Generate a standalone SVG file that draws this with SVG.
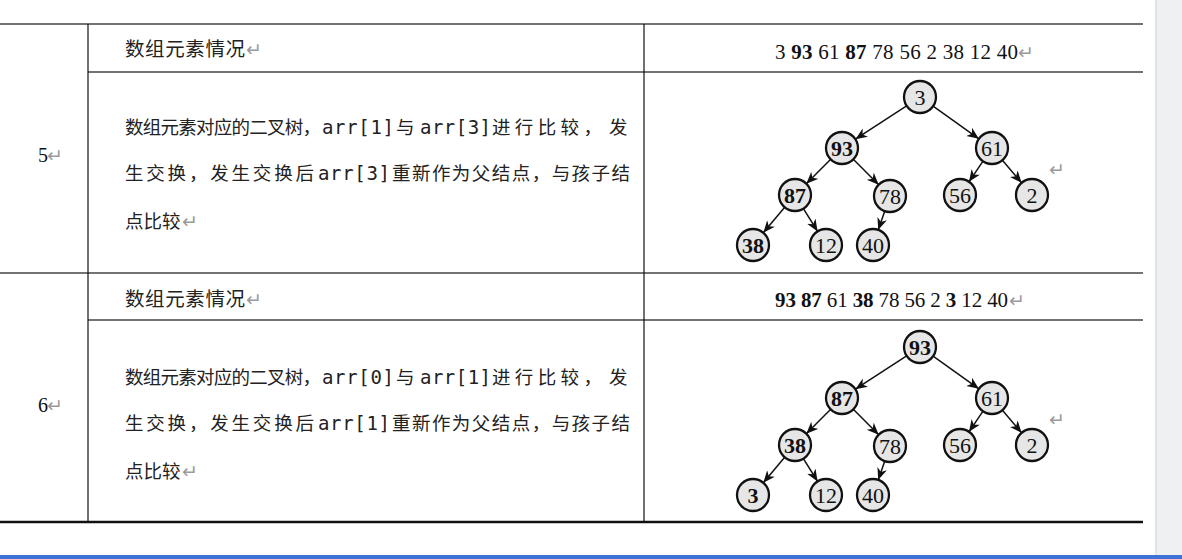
<svg xmlns="http://www.w3.org/2000/svg" width="1182" height="559" viewBox="0 0 1182 559">
<style>
.cjk{font-family:"Noto Sans CJK SC","Noto Sans",sans-serif;font-size:18.5px;fill:#222}
.hdr{font-family:"Noto Sans CJK SC","Noto Sans",sans-serif;font-size:19.5px;fill:#222}
.mono{font-family:"DejaVu Sans Mono","Liberation Mono",monospace;font-size:19px;fill:#222}
.ser{font-family:"Liberation Serif","Times New Roman",serif;fill:#111}
.ret{font-family:"DejaVu Sans",sans-serif;font-size:19px;fill:#9a9a9a}
.nd circle{fill:#e6e6e6;stroke:#111;stroke-width:2.3}
.nd text{font-family:"Liberation Serif","Times New Roman",serif;font-size:22px;text-anchor:middle;fill:#111}
.b{font-weight:bold}
.edge{stroke:#111;stroke-width:1.5;fill:none;marker-end:url(#ah)}
.rule{stroke:#444;stroke-width:1.5}
</style>
<defs>
<marker id="ah" markerUnits="userSpaceOnUse" markerWidth="14" markerHeight="12" refX="12" refY="5" orient="auto">
<path d="M0,0 L12,5 L0,10 L3.5,5 z" fill="#111"/>
</marker>
</defs>
<rect width="1182" height="559" fill="#ffffff"/>
<rect x="1155" y="0" width="27" height="559" fill="#eff0f2"/>
<rect x="1155" y="0" width="2" height="559" fill="#e2e3e6"/>
<rect x="0" y="555" width="1182" height="4" fill="#3f72d6"/>

<g id="table">
<line class="rule" x1="0" y1="24" x2="1143" y2="24" stroke="#333"/>
<line class="rule" x1="88" y1="72" x2="1143" y2="72" stroke="#666"/>
<line class="rule" x1="0" y1="273" x2="1143" y2="273" stroke="#333"/>
<line class="rule" x1="88" y1="320" x2="1143" y2="320" stroke="#666"/>
<line x1="0" y1="522" x2="1143" y2="522" stroke="#111" stroke-width="2.5"/>
<line x1="88" y1="24" x2="88" y2="522" stroke="#111" stroke-width="1.2"/>
<line x1="644" y1="24" x2="644" y2="522" stroke="#111" stroke-width="1.2"/>
</g>

<g id="row5-text">
<text class="ser" x="38" y="162" font-size="20">5</text><text class="ret" x="47" y="162">↵</text>
<text class="hdr" x="125" y="56" textLength="120">数组元素情况</text><text class="ret" x="246" y="56">↵</text>
<text class="ser" x="775" y="59" font-size="21" textLength="243">3 <tspan class="b">93</tspan> 61 <tspan class="b">87</tspan> 78 56 2 38 12 40</text><text class="ret" x="1018" y="59">↵</text>
<text class="cjk" x="125" y="134" textLength="196">数组元素对应的二叉树，</text>
<text class="mono" x="322" y="134" textLength="72">arr[1]</text>
<text class="cjk" x="396" y="134">与</text>
<text class="mono" x="420" y="134" textLength="71">arr[3]</text>
<text class="cjk" x="492" y="134" textLength="110">进行比较，</text>
<text class="cjk" x="609" y="134">发</text>
<text class="cjk" x="125" y="180" textLength="189">生交换，发生交换后</text>
<text class="mono" x="318" y="180" textLength="72">arr[3]</text>
<text class="cjk" x="392" y="180" textLength="238">重新作为父结点，与孩子结</text>
<text class="cjk" x="125" y="228">点比较</text><text class="ret" x="182" y="228">↵</text>
<text class="ret" x="1049" y="176">↵</text>
</g>

<g id="row6-text">
<text class="ser" x="38" y="412" font-size="20">6</text><text class="ret" x="47" y="412">↵</text>
<text class="hdr" x="125" y="306" textLength="120">数组元素情况</text><text class="ret" x="246" y="306">↵</text>
<text class="ser" x="775" y="307" font-size="21" textLength="233"><tspan class="b">93</tspan> <tspan class="b">87</tspan> 61 <tspan class="b">38</tspan> 78 56 2 <tspan class="b">3</tspan> 12 40</text><text class="ret" x="1009" y="307">↵</text>
<text class="cjk" x="125" y="384" textLength="196">数组元素对应的二叉树，</text>
<text class="mono" x="322" y="384" textLength="72">arr[0]</text>
<text class="cjk" x="396" y="384">与</text>
<text class="mono" x="420" y="384" textLength="71">arr[1]</text>
<text class="cjk" x="492" y="384" textLength="110">进行比较，</text>
<text class="cjk" x="609" y="384">发</text>
<text class="cjk" x="125" y="430" textLength="189">生交换，发生交换后</text>
<text class="mono" x="318" y="430" textLength="72">arr[1]</text>
<text class="cjk" x="392" y="430" textLength="238">重新作为父结点，与孩子结</text>
<text class="cjk" x="125" y="478">点比较</text><text class="ret" x="182" y="478">↵</text>
<text class="ret" x="1049" y="426">↵</text>
</g>

<g id="connectors">
<line class="edge" x1="906.6" y1="105.8" x2="855.4" y2="139.2"/>
<line class="edge" x1="933.1" y1="106.2" x2="978.9" y2="138.8"/>
<line class="edge" x1="830.7" y1="159.3" x2="806.3" y2="183.7"/>
<line class="edge" x1="853.3" y1="159.3" x2="878.7" y2="184.7"/>
<line class="edge" x1="983" y1="161.2" x2="969" y2="181.8"/>
<line class="edge" x1="1002.4" y1="160.2" x2="1021.6" y2="182.8"/>
<line class="edge" x1="784.7" y1="207.3" x2="763.3" y2="232.7"/>
<line class="edge" x1="803.4" y1="208.6" x2="817.6" y2="231.4"/>
<line class="edge" x1="884.8" y1="211.1" x2="878.2" y2="229.9"/>
<g transform="translate(0,250)">
<line class="edge" x1="906.6" y1="105.8" x2="855.4" y2="139.2"/>
<line class="edge" x1="933.1" y1="106.2" x2="978.9" y2="138.8"/>
<line class="edge" x1="830.7" y1="159.3" x2="806.3" y2="183.7"/>
<line class="edge" x1="853.3" y1="159.3" x2="878.7" y2="184.7"/>
<line class="edge" x1="983" y1="161.2" x2="969" y2="181.8"/>
<line class="edge" x1="1002.4" y1="160.2" x2="1021.6" y2="182.8"/>
<line class="edge" x1="784.7" y1="207.3" x2="763.3" y2="232.7"/>
<line class="edge" x1="803.4" y1="208.6" x2="817.6" y2="231.4"/>
<line class="edge" x1="884.8" y1="211.1" x2="878.2" y2="229.9"/>
</g>
</g>

<g id="t1-n3" class="nd"><circle cx="920" cy="97" r="16"/><text x="920" y="104.5">3</text></g>
<g id="t1-n93" class="nd"><circle cx="842" cy="148" r="16"/><text class="b" x="842" y="155.5">93</text></g>
<g id="t1-n61" class="nd"><circle cx="992" cy="148" r="16"/><text x="992" y="155.5">61</text></g>
<g id="t1-n87" class="nd"><circle cx="795" cy="195" r="16"/><text class="b" x="795" y="202.5">87</text></g>
<g id="t1-n78" class="nd"><circle cx="890" cy="196" r="16"/><text x="890" y="203.5">78</text></g>
<g id="t1-n56" class="nd"><circle cx="960" cy="195" r="16"/><text x="960" y="202.5">56</text></g>
<g id="t1-n2" class="nd"><circle cx="1032" cy="195" r="16"/><text x="1032" y="202.5">2</text></g>
<g id="t1-n38" class="nd"><circle cx="753" cy="245" r="16"/><text class="b" x="753" y="252.5">38</text></g>
<g id="t1-n12" class="nd"><circle cx="826" cy="245" r="16"/><text x="826" y="252.5">12</text></g>
<g id="t1-n40" class="nd"><circle cx="873" cy="245" r="16"/><text x="873" y="252.5">40</text></g>

<g id="t2-n93" class="nd"><circle cx="920" cy="347" r="16"/><text class="b" x="920" y="354.5">93</text></g>
<g id="t2-n87" class="nd"><circle cx="842" cy="398" r="16"/><text class="b" x="842" y="405.5">87</text></g>
<g id="t2-n61" class="nd"><circle cx="992" cy="398" r="16"/><text x="992" y="405.5">61</text></g>
<g id="t2-n38" class="nd"><circle cx="795" cy="445" r="16"/><text class="b" x="795" y="452.5">38</text></g>
<g id="t2-n78" class="nd"><circle cx="890" cy="446" r="16"/><text x="890" y="453.5">78</text></g>
<g id="t2-n56" class="nd"><circle cx="960" cy="445" r="16"/><text x="960" y="452.5">56</text></g>
<g id="t2-n2" class="nd"><circle cx="1032" cy="445" r="16"/><text x="1032" y="452.5">2</text></g>
<g id="t2-n3" class="nd"><circle cx="753" cy="495" r="16"/><text class="b" x="753" y="502.5">3</text></g>
<g id="t2-n12" class="nd"><circle cx="826" cy="495" r="16"/><text x="826" y="502.5">12</text></g>
<g id="t2-n40" class="nd"><circle cx="873" cy="495" r="16"/><text x="873" y="502.5">40</text></g>
</svg>
